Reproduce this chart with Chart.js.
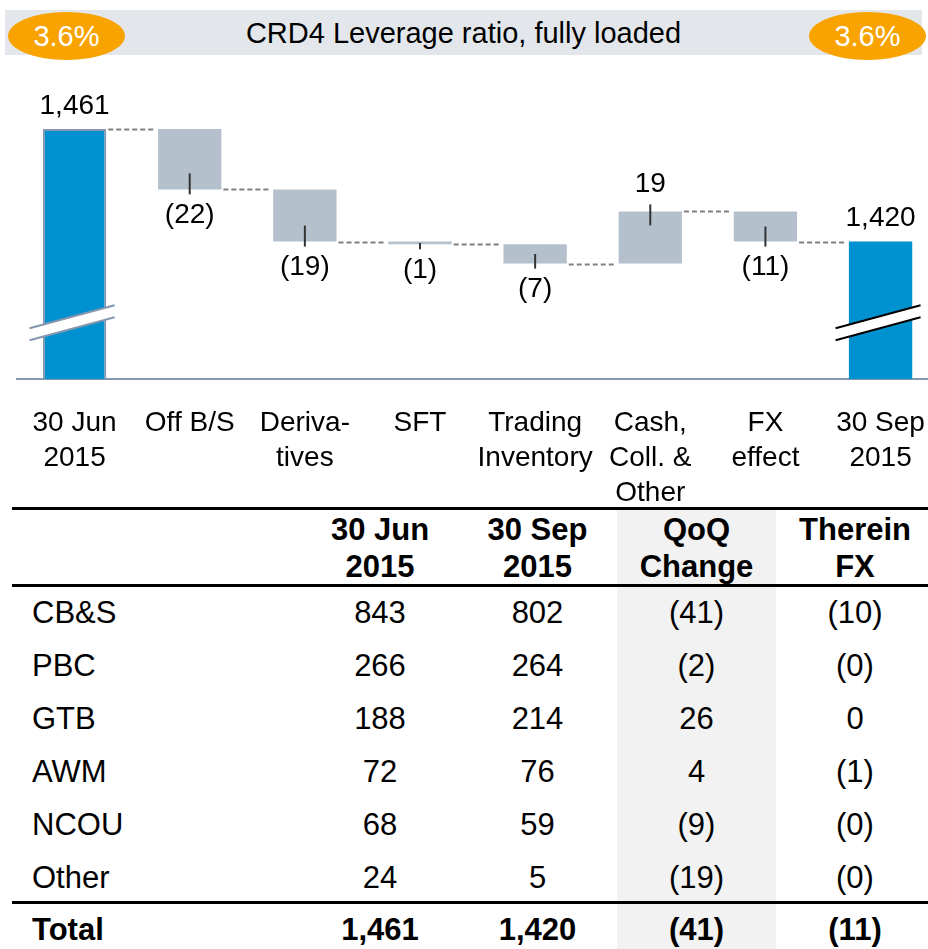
<!DOCTYPE html>
<html>
<head>
<meta charset="utf-8">
<script src="https://cdn.jsdelivr.net/npm/chart.js@4"></script>
<style>
  html, body { margin: 0; padding: 0; background: #fff; overflow: hidden; }
  body { width: 928px; height: 949px; position: relative; font-family: "Liberation Sans", Arial, sans-serif; color: #000; }
  .band { position: absolute; left: 5px; top: 10px; width: 917px; height: 45px; background: #E3E7EC;
          font-size: 29px; line-height: 46px; text-align: center; }
  .pill { position: absolute; top: 12px; width: 117px; height: 48px; border-radius: 50%; background: #F8A300;
          color: #fff; font-size: 29px; line-height: 48px; text-align: center; }
  #wrap { position: absolute; left: 0; top: 75px; width: 952px; height: 463px; }
  #tbl { position: absolute; left: 0; top: 0; width: 945px; height: 949px; font-size: 31px; }
  .shade { position: absolute; left: 617px; width: 159px; top: 509px; height: 440px; background: #F2F2F2; }
  .rule { position: absolute; left: 12px; width: 930px; height: 3px; background: #000; }
  .cell { position: absolute; text-align: center; white-space: nowrap; }
  .lbl { position: absolute; left: 32px; white-space: nowrap; }
  .bold { font-weight: bold; }
</style>
</head>
<body>
<div class="band">CRD4 Leverage ratio, fully loaded</div>
<div class="pill" style="left:8px">3.6%</div>
<div class="pill" style="left:809px">3.6%</div>

<div id="tbl"></div>

<div id="wrap"><canvas id="waterfall" width="952" height="463"></canvas></div>

<script>
// waterfall data
var categories = [
  ["30 Jun", "2015"], ["Off B/S"], ["Deriva-", "tives"], ["SFT"],
  ["Trading", "Inventory"], ["Cash,", "Coll. &", "Other"], ["FX", "effect"], ["30 Sep", "2015"]
];
var stepValues = [1461, -22, -19, -1, -7, 19, -11, 1420];
var isTotal = [true, false, false, false, false, false, false, true];
var valueLabels = ["1,461", "(22)", "(19)", "(1)", "(7)", "19", "(11)", "1,420"];
var axisMin = 1370;
var axisMax = 1477;
var breakValue = 1390.5;

// table data
var segments = ["CB&S", "PBC", "GTB", "AWM", "NCOU", "Other"];
var jun2015 = ["843", "266", "188", "72", "68", "24"];
var sep2015 = ["802", "264", "214", "76", "59", "5"];
var qoqChange = ["(41)", "(2)", "26", "4", "(9)", "(19)"];
var thereinFx = ["(10)", "(0)", "0", "(1)", "(0)", "(0)"];
var totalRow = ["Total", "1,461", "1,420", "(41)", "(11)"];
var headers = [["30 Jun", "2015"], ["30 Sep", "2015"], ["QoQ", "Change"], ["Therein", "FX"]];

var blue = "#0091D1";
var grey = "#B4C0CC";

// floating bars: [low, high]
var floating = [];
var cumulative = [];
var running = 0;
for (var i = 0; i < stepValues.length; i++) {
  if (isTotal[i]) {
    running = stepValues[i];
    floating.push([axisMin, stepValues[i]]);
  } else {
    var prev = running;
    running = running + stepValues[i];
    floating.push([Math.min(prev, running), Math.max(prev, running)]);
  }
  cumulative.push(running);
}

var extras = {
  id: "extras",
  afterDatasetsDraw: function (chart) {
    var ctx = chart.ctx;
    var y = chart.scales.y;
    var bars = chart.getDatasetMeta(0).data;
    ctx.save();

    // dashed connectors
    ctx.strokeStyle = "#808080";
    ctx.lineWidth = 2;
    ctx.setLineDash([5, 3]);
    for (var i = 0; i < bars.length - 1; i++) {
      var a = bars[i], b = bars[i + 1];
      var py = Math.round(y.getPixelForValue(cumulative[i])) + 0.5;
      ctx.beginPath();
      ctx.moveTo(a.x + a.width / 2 + 2, py);
      ctx.lineTo(b.x - b.width / 2 - 2, py);
      ctx.stroke();
    }
    ctx.setLineDash([]);

    // labels and small ticks
    ctx.font = "28px 'Liberation Sans', Arial, sans-serif";
    ctx.fillStyle = "#000";
    ctx.textAlign = "center";
    ctx.textBaseline = "middle";
    ctx.strokeStyle = "#333";
    for (var j = 0; j < bars.length; j++) {
      var bar = bars[j];
      var barTop = Math.min(bar.y, bar.base);
      var barBottom = Math.max(bar.y, bar.base);
      var mid = (barTop + barBottom) / 2;
      if (isTotal[j]) {
        ctx.fillText(valueLabels[j], bar.x, barTop - 23);
      } else if (stepValues[j] < 0) {
        ctx.beginPath();
        ctx.moveTo(bar.x, Math.max(mid, barBottom - 16));
        ctx.lineTo(bar.x, barBottom + 5);
        ctx.stroke();
        ctx.fillText(valueLabels[j], bar.x, barBottom + 26);
      } else {
        ctx.beginPath();
        ctx.moveTo(bar.x, barTop - 7);
        ctx.lineTo(bar.x, Math.min(mid, barTop + 14));
        ctx.stroke();
        ctx.fillText(valueLabels[j], bar.x, barTop - 27);
      }
    }

    // axis break marks on the total bars
    var yc = y.getPixelForValue(breakValue);
    var idx = [0, bars.length - 1];
    var markColor = ["#8497AE", "#000"];
    for (var k = 0; k < idx.length; k++) {
      var tb = bars[idx[k]];
      var xl = tb.x - 45, xr = tb.x + 40;
      ctx.fillStyle = "#fff";
      ctx.beginPath();
      ctx.moveTo(xl, yc - 6 + 11.5);
      ctx.lineTo(xr, yc - 6 - 11.5);
      ctx.lineTo(xr, yc + 6 - 11.5);
      ctx.lineTo(xl, yc + 6 + 11.5);
      ctx.closePath();
      ctx.fill();
      ctx.strokeStyle = markColor[k];
      ctx.lineWidth = 2;
      ctx.beginPath();
      ctx.moveTo(xl, yc - 6 + 11.5);
      ctx.lineTo(xr, yc - 6 - 11.5);
      ctx.moveTo(xl, yc + 6 + 11.5);
      ctx.lineTo(xr, yc + 6 - 11.5);
      ctx.stroke();
    }
    ctx.restore();
  }
};

new Chart("waterfall", {
  type: "bar",
  data: {
    labels: categories,
    datasets: [{
      data: floating,
      backgroundColor: isTotal.map(function (t) { return t ? blue : grey; }),
      borderColor: "#8497AE",
      borderWidth: [2, 0, 0, 0, 0, 0, 0, 0],
      borderSkipped: "start",
      barPercentage: 0.55,
      categoryPercentage: 1
    }]
  },
  plugins: [extras],
  options: {
    responsive: false,
    maintainAspectRatio: false,
    animation: false,
    layout: { padding: { left: 17, right: 1, top: 10, bottom: 0 } },
    plugins: { legend: { display: false }, tooltip: { enabled: false } },
    scales: {
      x: {
        grid: { display: false, drawTicks: false },
        border: { display: true, color: "#8497AE", width: 2 },
        ticks: {
          color: "#000",
          padding: 27,
          maxRotation: 0,
          autoSkip: false,
          font: { family: "'Liberation Sans', Arial, sans-serif", size: 28, lineHeight: 1.25 }
        }
      },
      y: { display: false, min: axisMin, max: axisMax }
    }
  }
});

// table below the chart
var tbl = document.getElementById("tbl");
function add(cls, style, text) {
  var d = document.createElement("div");
  d.className = cls;
  d.setAttribute("style", style);
  d.textContent = text;
  tbl.appendChild(d);
}
add("shade", "", "");
add("rule", "top:507px", "");
add("rule", "top:584px", "");
add("rule", "top:901px", "");

var colLeft = [302, 458, 617, 776];
var colWidth = [156, 159, 159, 158];
for (var h = 0; h < headers.length; h++) {
  add("cell bold", "left:" + colLeft[h] + "px;width:" + colWidth[h] + "px;top:511px;line-height:37px", headers[h][0]);
  add("cell bold", "left:" + colLeft[h] + "px;width:" + colWidth[h] + "px;top:548px;line-height:37px", headers[h][1]);
}
var cols = [jun2015, sep2015, qoqChange, thereinFx];
for (var r = 0; r < segments.length; r++) {
  var rowTop = 586 + r * 53;
  add("lbl", "top:" + rowTop + "px;line-height:53px", segments[r]);
  for (var c = 0; c < cols.length; c++) {
    add("cell", "left:" + colLeft[c] + "px;width:" + colWidth[c] + "px;top:" + rowTop + "px;line-height:53px", cols[c][r]);
  }
}
add("lbl bold", "top:905px;line-height:50px", totalRow[0]);
for (var c2 = 0; c2 < cols.length; c2++) {
  add("cell bold", "left:" + colLeft[c2] + "px;width:" + colWidth[c2] + "px;top:905px;line-height:50px", totalRow[c2 + 1]);
}
</script>
</body>
</html>
